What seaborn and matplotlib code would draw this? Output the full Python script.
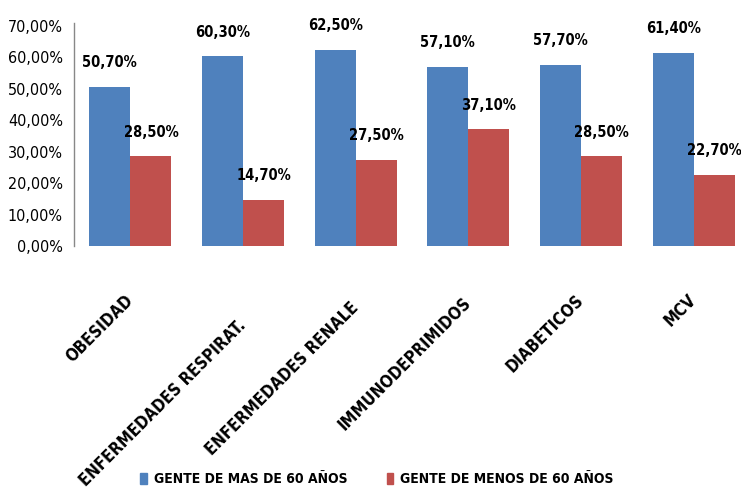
import pandas as pd
import matplotlib
matplotlib.use("Agg")
import matplotlib.pyplot as plt
import matplotlib.transforms as mtransforms
import seaborn as sns

# data
categories = ['OBESIDAD', 'ENFERMEDADES RESPIRAT.', 'ENFERMEDADES RENALE',
              'IMMUNODEPRIMIDOS', 'DIABETICOS', 'MCV']
mayores = [50.7, 60.3, 62.5, 57.1, 57.7, 61.4]
menores = [28.5, 14.7, 27.5, 37.1, 28.5, 22.7]
series = ['GENTE DE MAS DE 60 AÑOS', 'GENTE DE MENOS DE 60 AÑOS']
colors = ['#4F81BD', '#C0504D']

df = pd.DataFrame({
    'Grupo': categories * 2,
    'Valor': mayores + menores,
    'Serie': [series[0]] * len(categories) + [series[1]] * len(categories),
})

sns.set_style('white')
plt.rcParams['font.family'] = ['DejaVu Sans']
plt.rcParams['font.stretch'] = 'condensed'

fig = plt.figure(figsize=(7.41, 4.97), dpi=100)
ax = fig.add_axes([74 / 741, 251 / 497, 676 / 741, 220 / 497])

sns.barplot(data=df, x='Grupo', y='Valor', hue='Serie', palette=colors,
            width=0.73, gap=0, saturation=1, linewidth=0, ax=ax, legend=False)

# labels on top of bars
for cont in ax.containers:
    ax.bar_label(cont, labels=[f"{b.get_height():.2f}%".replace('.', ',') for b in cont],
                 padding=12, fontsize=10.5, fontweight='bold', fontstretch='condensed',
                 color='black')

ax.set_ylim(0, 70)
ax.set_xlim(-0.5, 5.5)
ax.set_yticks(range(0, 71, 10))
ax.set_yticklabels([f"{v:.2f}%".replace('.', ',') for v in range(0, 71, 10)],
                   fontsize=11.5, fontstretch='condensed', color='black')
ax.set_xticks(range(len(categories)))
ax.set_xticklabels(categories, rotation=45, ha='right', va='center',
                   rotation_mode='anchor', fontsize=12, fontweight='bold',
                   fontstretch='condensed', color='black')
ax.tick_params(axis='x', length=0, pad=37)
ax.tick_params(axis='y', length=0, pad=8)
ax.set_xlabel('')
ax.set_ylabel('')

# the long labels sit a bit lower in the original
drop_px = [0, 25, 8, 3, 0, 0]
for lbl, d in zip(ax.get_xticklabels(), drop_px):
    lbl.set_transform(lbl.get_transform() +
                      mtransforms.ScaledTranslation(0, -d / 100, fig.dpi_scale_trans))

for s in ['top', 'right', 'bottom']:
    ax.spines[s].set_visible(False)
ax.spines['left'].set_color('#888888')
ax.spines['left'].set_linewidth(1)
ax.spines['left'].set_bounds(0, 71)

handles = [plt.Rectangle((0, 0), 1, 1, color=c) for c in colors]
fig.legend(handles, series, loc='center', bbox_to_anchor=(377 / 741, 1 - 479 / 497),
           ncol=2, frameon=False, handlelength=0.5, handleheight=0.85,
           handletextpad=0.5, columnspacing=2.8, labelcolor='black',
           prop={'size': 10, 'weight': 'bold', 'stretch': 'condensed'})

fig.savefig('out.png', dpi=100)
